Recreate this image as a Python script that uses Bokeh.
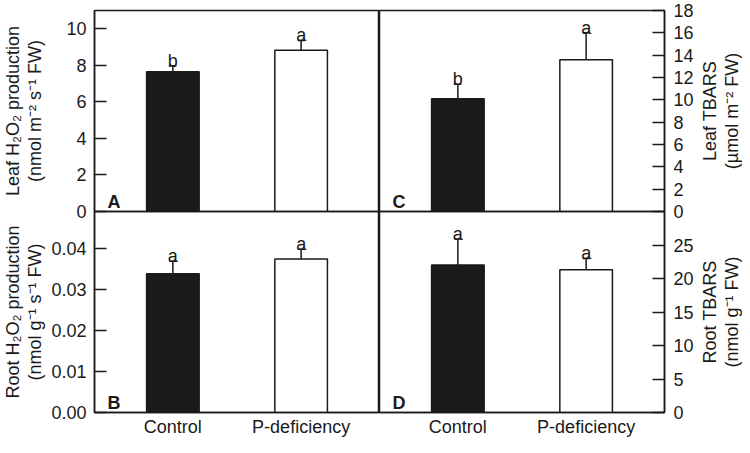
import math
from bokeh.plotting import figure
from bokeh.models import FactorRange, FixedTicker, Label, NumeralTickFormatter, Range1d
from bokeh.layouts import column, row
from bokeh.core.properties import value
from bokeh.embed import file_html
from bokeh.resources import INLINE

# ---------------- data ----------------
categories = ["Control", "P-deficiency"]

leaf_h2o2 = [7.65, 8.82]
leaf_h2o2_err = [0.33, 0.54]
leaf_h2o2_letters = ["b", "a"]

root_h2o2 = [0.0338, 0.0374]
root_h2o2_err = [0.0031, 0.0024]
root_h2o2_letters = ["a", "a"]

leaf_tbars = [10.1, 13.6]
leaf_tbars_err = [1.3, 2.4]
leaf_tbars_letters = ["b", "a"]

root_tbars = [22.0, 21.3]
root_tbars_err = [3.9, 1.7]
root_tbars_letters = ["a", "a"]

ticks_a = [0, 2, 4, 6, 8, 10]
ticks_b = [0, 0.01, 0.02, 0.03, 0.04]
ticks_c = [0, 2, 4, 6, 8, 10, 12, 14, 16, 18]
ticks_d = [0, 5, 10, 15, 20, 25]

label_a = "Leaf H\u2082O\u2082 production\n(nmol m\u207b\u00b2 s\u207b\u00b9 FW)"
label_b = "Root H\u2082O\u2082 production\n(nmol g\u207b\u00b9 s\u207b\u00b9 FW)"
label_c = "Leaf TBARS\n(\u00b5mol m\u207b\u00b2 FW)"
label_d = "Root TBARS\n(nmol g\u207b\u00b9 FW)"

bar_colors = ["#1a1a1a", "white"]

FONT = "Liberation Sans"
FS = "18px"
INK = "#1a1a1a"

FW, FH = 285, 201
LEFT, RIGHT, TOP, BOTTOM, GAP = 89, 32, 10, 25, 12


def style_label(ax, text, standoff):
    ax.axis_label = text
    ax.axis_label_text_font = FONT
    ax.axis_label_text_font_size = FS
    ax.axis_label_text_font_style = "normal"
    ax.axis_label_text_color = INK
    ax.axis_label_text_line_height = 1.1
    ax.axis_label_standoff = standoff


def panel(vals, errs, letters, ymax, ticks, ylabel, tag, col, rw, fmt=None,
          label_standoff=3):
    side = "left" if col == 0 else "right"
    bottom = rw == 1
    p = figure(
        x_range=FactorRange(*categories, range_padding=0.111, range_padding_units="absolute"),
        y_range=Range1d(0, ymax),
        frame_width=FW, frame_height=FH,
        output_backend="svg", toolbar_location=None,
        y_axis_location=side,
        x_axis_location="below" if bottom else None,
        min_border_left=LEFT if col == 0 else 0,
        min_border_right=RIGHT if col == 1 else 0,
        min_border_top=GAP if bottom else TOP,
        min_border_bottom=BOTTOM if bottom else GAP,
        background_fill_alpha=0, border_fill_alpha=0,
    )
    p.grid.visible = False
    p.outline_line_color = INK
    p.outline_line_width = 1.5

    tops = [v + e for v, e in zip(vals, errs)]
    p.vbar(x=categories, top=vals, width=0.41, fill_color=bar_colors,
           line_color=INK, line_width=1.5)
    p.segment(x0=categories, y0=vals, x1=categories, y1=tops,
              line_color=INK, line_width=1.5)
    p.scatter(x=categories, y=tops, marker="dash", size=7,
              line_color=INK, line_width=1.5)
    p.text(x=categories, y=tops, text=letters, text_align="center",
           text_baseline="alphabetic", y_offset=-5,
           text_font=value(FONT), text_font_size=FS, text_color=INK)

    ya = p.yaxis[0]
    ya.ticker = FixedTicker(ticks=ticks)
    if fmt:
        ya.formatter = NumeralTickFormatter(format=fmt)
    ya.major_tick_in = 12
    ya.major_tick_out = 0
    ya.minor_tick_line_color = None
    ya.axis_line_width = 1.5
    ya.axis_line_color = INK
    ya.major_tick_line_width = 1.5
    ya.major_tick_line_color = INK
    ya.major_label_text_font = FONT
    ya.major_label_text_font_size = FS
    ya.major_label_text_color = INK
    ya.major_label_standoff = 8 if side == "left" else 9
    if side == "left":
        style_label(ya, ylabel, label_standoff)

    if bottom:
        xa = p.xaxis[0]
        xa.major_tick_in = 0
        xa.major_tick_out = 0
        xa.minor_tick_line_color = None
        xa.axis_line_width = 1.5
        xa.axis_line_color = INK
        xa.major_label_text_font = FONT
        xa.major_label_text_font_size = FS
        xa.major_label_text_color = INK
        xa.major_label_standoff = 4

    p.add_layout(Label(x=13, y=10, x_units="screen", y_units="screen", text=tag,
                       text_font=FONT, text_font_size=FS, text_font_style="bold",
                       text_baseline="alphabetic", text_color=INK))
    return p


def title_holder(text, rw):
    """A bare strip whose only content is the right-hand, bottom-to-top axis title."""
    bottom = rw == 1
    h = figure(
        x_range=Range1d(0, 1), y_range=Range1d(0, 1),
        frame_width=1, frame_height=FH,
        output_backend="svg", toolbar_location=None,
        y_axis_location="left", x_axis_location=None,
        min_border_left=0, min_border_right=0,
        min_border_top=GAP if bottom else TOP,
        min_border_bottom=BOTTOM if bottom else GAP,
        background_fill_alpha=0, border_fill_alpha=0,
        outline_line_color=None,
    )
    h.grid.visible = False
    ax = h.yaxis[0]
    ax.ticker = FixedTicker(ticks=[])
    ax.axis_line_color = None
    ax.major_tick_line_color = None
    ax.minor_tick_line_color = None
    ax.major_label_standoff = 0
    style_label(ax, text, 0)
    return h


pA = panel(leaf_h2o2, leaf_h2o2_err, leaf_h2o2_letters, 11.0, ticks_a, label_a, "A",
           0, 0, label_standoff=18)
pB = panel(root_h2o2, root_h2o2_err, root_h2o2_letters, 0.049, ticks_b, label_b, "B",
           0, 1, fmt="0.00")
pC = panel(leaf_tbars, leaf_tbars_err, leaf_tbars_letters, 18.0, ticks_c, label_c, "C",
           1, 0)
pD = panel(root_tbars, root_tbars_err, root_tbars_letters, 30.0, ticks_d, label_d, "D",
           1, 1)
hC = title_holder(label_c, 0)
hD = title_holder(label_d, 1)

top_row = row(pA, pC, hC)
bottom_row = row(pB, pD, hD, margin=(-2 * GAP, 0, 0, 0))
layout = column(top_row, bottom_row)

open("out.html", "w").write(file_html(layout, INLINE))
